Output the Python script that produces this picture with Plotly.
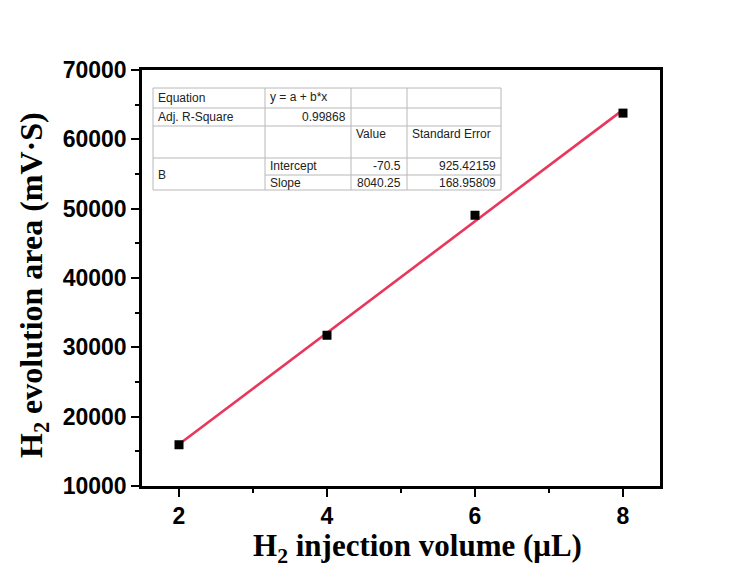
import plotly.graph_objects as go

# Calibration data: injected H2 volume vs. integrated peak area
volume_uL = [2, 4, 6, 8]
area_mVS = [15950, 31741, 49050, 63782]

# Linear fit results (y = a + b*x)
fit_intercept = -70.5
fit_slope = 8040.25
fit_intercept_se = 925.42159
fit_slope_se = 168.95809
adj_r_square = 0.99868

x_ticks = [2, 4, 6, 8]
y_ticks = [10000, 20000, 30000, 40000, 50000, 60000, 70000]

x_title = "H<sub>2</sub> injection volume (μL)"
y_title = "H<sub>2</sub> evolution area (mV·S)"

W, H = 752, 574
ML, MR, MT, MB = 142, 92, 70, 88
PW, PH = W - ML - MR, H - MT - MB


def px(x):
    return (x - ML) / PW


def py(y):
    return (H - MB - y) / PH


fit_x = [min(volume_uL), max(volume_uL)]
fit_y = [fit_intercept + fit_slope * v for v in fit_x]

fig = go.Figure()
fig.add_trace(go.Scatter(
    x=fit_x, y=fit_y, mode="lines",
    line=dict(color="#e8375c", width=2.6),
    showlegend=False, hoverinfo="skip"))
fig.add_trace(go.Scatter(
    x=volume_uL, y=area_mVS, mode="markers",
    marker=dict(symbol="square", size=9, color="black"),
    showlegend=False))

# Fit parameter table
tbl_left, tbl_right, tbl_top, tbl_bottom = 153, 501, 88, 190
col_x = [265, 351, 407]
row_y = [108, 126, 158]
grid = "#b8b8b8"
shapes = [dict(type="rect", xref="paper", yref="paper",
               x0=px(tbl_left), x1=px(tbl_right), y0=py(tbl_bottom), y1=py(tbl_top),
               line=dict(color=grid, width=1), fillcolor="white", layer="below")]
for cx in col_x:
    shapes.append(dict(type="line", xref="paper", yref="paper",
                       x0=px(cx), x1=px(cx), y0=py(tbl_bottom), y1=py(tbl_top),
                       line=dict(color=grid, width=1)))
for ry in row_y:
    shapes.append(dict(type="line", xref="paper", yref="paper",
                       x0=px(tbl_left), x1=px(tbl_right), y0=py(ry), y1=py(ry),
                       line=dict(color=grid, width=1)))
shapes.append(dict(type="line", xref="paper", yref="paper",
                   x0=px(col_x[0]), x1=px(tbl_right), y0=py(175), y1=py(175),
                   line=dict(color=grid, width=1)))

tfont = dict(family="Liberation Sans, Arial", size=12, color="#222222")
cells = [
    ("Equation", 156, 98, "left"),
    ("y = a + b*x", 268, 97, "left"),
    ("Adj. R-Square", 156, 117, "left"),
    (f"{adj_r_square:.5f}", 348, 117, "right"),
    ("Value", 354, 134, "left"),
    ("Standard Error", 410, 134, "left"),
    ("B", 156, 175, "left"),
    ("Intercept", 268, 166, "left"),
    (f"{fit_intercept:g}", 403, 166, "right"),
    (f"{fit_intercept_se:.5f}", 498, 166, "right"),
    ("Slope", 268, 183, "left"),
    (f"{fit_slope:g}", 403, 183, "right"),
    (f"{fit_slope_se:.5f}", 498, 183, "right"),
]
annotations = [dict(text=t, x=px(x), y=py(y), xref="paper", yref="paper",
                    xanchor=a, yanchor="middle", showarrow=False, font=tfont)
               for t, x, y, a in cells]

# Axis titles
title_font = dict(family="Liberation Serif, Times New Roman", color="black", weight="bold")
annotations.append(dict(text=x_title, x=px(417), y=py(548), xref="paper", yref="paper",
                        xanchor="center", yanchor="middle", showarrow=False,
                        font=dict(size=31, **title_font)))
annotations.append(dict(text=y_title, x=px(33), y=py(285), xref="paper", yref="paper",
                        xanchor="center", yanchor="middle", showarrow=False,
                        textangle=-90, font=dict(size=32, **title_font)))

axis_common = dict(
    showline=True, linecolor="black", linewidth=2.5, mirror=True,
    ticks="outside", ticklen=8, tickwidth=2, tickcolor="black",
    showgrid=False, zeroline=False, tickformat="d",
    tickfont=dict(family="Liberation Sans, Arial", size=23, color="black", weight="bold"),
)

fig.update_layout(
    width=W, height=H,
    margin=dict(l=ML, r=MR, t=MT, b=MB),
    paper_bgcolor="white", plot_bgcolor="white",
    shapes=shapes, annotations=annotations,
    xaxis=dict(range=[1.5, 8.5], tickvals=x_ticks,
               minor=dict(dtick=1, tick0=1, ticks="outside", ticklen=4,
                          tickwidth=2, tickcolor="black"),
               **axis_common),
    yaxis=dict(range=[10000, 70000], tickvals=y_ticks,
               minor=dict(dtick=5000, tick0=5000, ticks="outside", ticklen=4,
                          tickwidth=2, tickcolor="black"),
               **axis_common),
)

fig.write_html("out.html")
